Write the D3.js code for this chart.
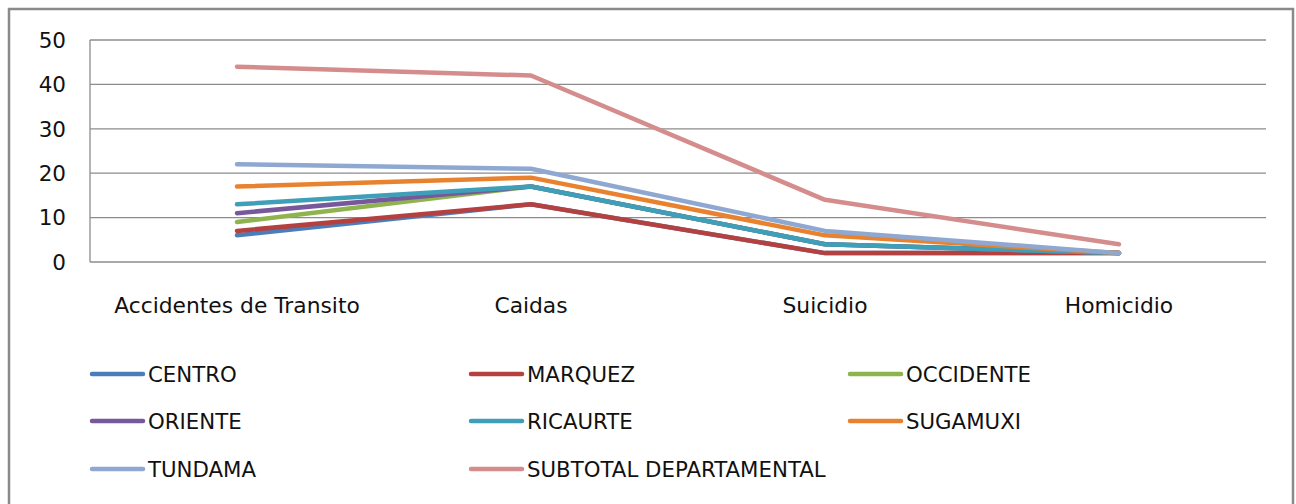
<!DOCTYPE html>
<html>
<head>
<meta charset="utf-8" />
<script src="https://d3js.org/d3.v7.min.js"></script>
<style>
  body { margin: 0; background: #fff; }
  text { font-family: "DejaVu Sans", sans-serif; fill: #111; }
</style>
</head>
<body>
<svg id="chart"></svg>
<script>
// categories on the x axis
var categories = ["Accidentes de Transito", "Caidas", "Suicidio", "Homicidio"];

// series names, in legend order (this is a stacked line chart)
var seriesNames = ["CENTRO", "MARQUEZ", "OCCIDENTE", "ORIENTE", "RICAURTE", "SUGAMUXI", "TUNDAMA", "SUBTOTAL DEPARTAMENTAL"];

// raw values per series (stacked on top of each other in the chart)
var centro    = [6, 13, 2, 2];
var marquez   = [1, 0, 0, 0];
var occidente = [2, 4, 2, 0];
var oriente   = [2, 0, 0, 0];
var ricaurte  = [2, 0, 0, 0];
var sugamuxi  = [4, 2, 2, 0];
var tundama   = [5, 2, 1, 0];
var subtotal  = [22, 21, 7, 2];

var yTicks = [0, 10, 20, 30, 40, 50];
var colors = ["#4A7EBB", "#B4413F", "#8FB34E", "#77589B", "#3F9FB8", "#E8822F", "#8EA8D2", "#D48D8C"];

var allSeries = [centro, marquez, occidente, oriente, ricaurte, sugamuxi, tundama, subtotal];

var width = 1296, height = 504;
var margin = {top: 40, right: 30, bottom: 242, left: 90};
var chartW = 1266 - margin.left;
var chartH = 262 - margin.top;

var svg = d3.select("#chart").attr("width", width).attr("height", height);

// outer frame
svg.append("rect")
  .attr("x", 9).attr("y", 9)
  .attr("width", 1284).attr("height", 500)
  .attr("fill", "none")
  .attr("stroke", "#8a8a8a")
  .attr("stroke-width", 2.5);

// build table for d3.stack
var table = categories.map(function(c, i) {
  var row = {cat: c};
  seriesNames.forEach(function(s, j) { row[s] = allSeries[j][i]; });
  return row;
});
var stacked = d3.stack().keys(seriesNames)(table);

var x = d3.scalePoint()
  .domain(categories)
  .range([margin.left, margin.left + chartW])
  .padding(0.5);

var y = d3.scaleLinear()
  .domain([0, 50])
  .range([margin.top + chartH, margin.top]);

// gridlines
svg.append("g").selectAll("line")
  .data(yTicks)
  .enter().append("line")
  .attr("x1", margin.left).attr("x2", margin.left + chartW)
  .attr("y1", function(d) { return y(d); })
  .attr("y2", function(d) { return y(d); })
  .attr("stroke", "#8c8c8c")
  .attr("stroke-width", 1.3);

// left axis line
svg.append("line")
  .attr("x1", margin.left).attr("x2", margin.left)
  .attr("y1", y(50)).attr("y2", y(0))
  .attr("stroke", "#8c8c8c")
  .attr("stroke-width", 1.3);

// y tick labels
svg.append("g").selectAll("text")
  .data(yTicks)
  .enter().append("text")
  .attr("x", 66)
  .attr("y", function(d) { return y(d); })
  .attr("dy", "0.36em")
  .attr("text-anchor", "end")
  .style("font-size", "21.5px")
  .text(function(d) { return d; });

// category labels
svg.append("g").selectAll("text")
  .data(categories)
  .enter().append("text")
  .attr("x", function(d) { return x(d); })
  .attr("y", 313)
  .attr("text-anchor", "middle")
  .style("font-size", "21.8px")
  .text(function(d) { return d; });

// lines
var line = d3.line()
  .x(function(d) { return x(d.data.cat); })
  .y(function(d) { return y(d[1]); });

svg.append("g").selectAll("path")
  .data(stacked)
  .enter().append("path")
  .attr("d", line)
  .attr("fill", "none")
  .attr("stroke", function(d, i) { return colors[i]; })
  .attr("stroke-width", 4.5)
  .attr("stroke-linecap", "round")
  .attr("stroke-linejoin", "round");

// legend
var legX = [90, 469, 848];
var legY = [374, 421, 469];
var leg = svg.append("g").selectAll("g")
  .data(seriesNames)
  .enter().append("g")
  .attr("transform", function(d, i) {
    return "translate(" + legX[i % 3] + "," + legY[Math.floor(i / 3)] + ")";
  });

leg.append("line")
  .attr("x1", 2).attr("x2", 53)
  .attr("y1", 0).attr("y2", 0)
  .attr("stroke", function(d, i) { return colors[i]; })
  .attr("stroke-width", 4.5)
  .attr("stroke-linecap", "round");

leg.append("text")
  .attr("x", 58)
  .attr("y", 0)
  .attr("dy", "0.36em")
  .style("font-size", "21.3px")
  .text(function(d) { return d; });
</script>
</body>
</html>
